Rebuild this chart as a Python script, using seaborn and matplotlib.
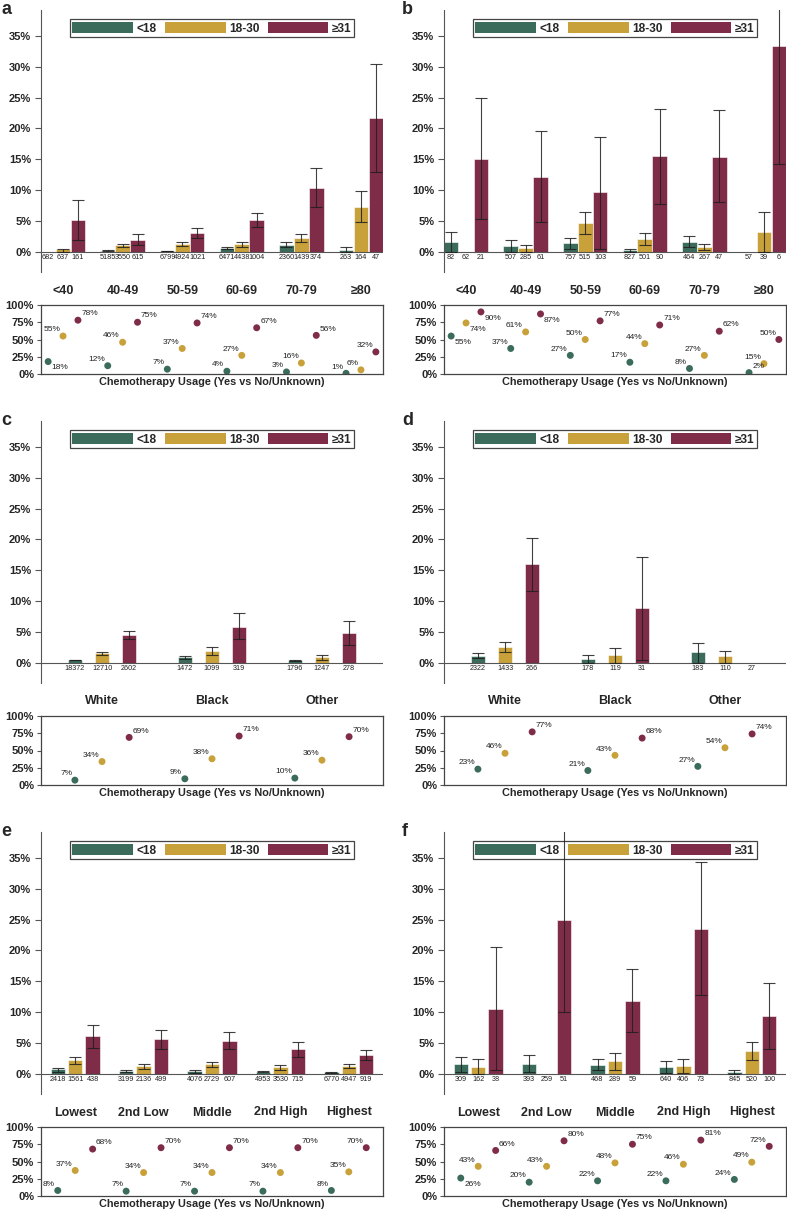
import numpy as np
import pandas as pd
import seaborn as sns
import matplotlib.pyplot as plt
from matplotlib.patches import Patch

sns.set_theme(style='white')
plt.rcParams['font.family'] = ['Liberation Sans', 'DejaVu Sans']

# groups
bmi_groups = ['<18', '18-30', '≥31']
palette = ['#3b6c5b', '#c9a13a', '#7f2c48']
age_groups = ['<40', '40-49', '50-59', '60-69', '70-79', '≥80']
race_groups = ['White', 'Black', 'Other']
income_groups = ['Lowest', '2nd Low', 'Middle', '2nd High', 'Highest']
nan = np.nan

# ---- panel a (age) ----
a_n = [[682, 5185, 6799, 6471, 2360, 263],
       [637, 3550, 4924, 4438, 1439, 164],
       [161, 615, 1021, 1004, 374, 47]]
a_rate = [[0.0, 0.15, 0.1, 0.55, 1.15, 0.3],
          [0.4, 1.0, 1.25, 1.2, 2.25, 7.25],
          [5.2, 1.95, 3.1, 5.1, 10.3, 21.7]]
a_lo = [[nan, 0.1, 0.05, 0.4, 0.7, 0.0],
        [0.0, 0.7, 0.85, 0.8, 1.6, 4.75],
        [1.95, 1.1, 2.2, 4.05, 7.3, 12.9]]
a_hi = [[nan, 0.2, 0.15, 0.7, 1.6, 0.7],
        [0.5, 1.3, 1.55, 1.55, 2.85, 9.8],
        [8.4, 2.8, 3.9, 6.2, 13.5, 30.5]]
a_chemo = [[18, 12, 7, 4, 3, 1],
           [55, 46, 37, 27, 16, 6],
           [78, 75, 74, 67, 56, 32]]

# ---- panel b (age) ----
b_n = [[82, 507, 757, 827, 464, 57],
       [62, 285, 515, 501, 267, 39],
       [21, 61, 103, 90, 47, 6]]
b_rate = [[1.6, 0.97, 1.35, 0.27, 1.6, 0.0],
          [0.0, 0.55, 4.6, 2.1, 0.7, 3.25],
          [15.1, 12.05, 9.6, 15.5, 15.4, 33.4]]
b_lo = [[0.0, 0.0, 0.5, 0.0, 0.7, nan],
        [nan, 0.0, 2.8, 1.0, 0.2, 0.0],
        [5.3, 4.8, 0.5, 7.8, 8.0, 14.2]]
b_hi = [[3.25, 1.95, 2.2, 0.45, 2.6, nan],
        [nan, 1.1, 6.5, 3.1, 1.3, 6.5],
        [25.0, 19.5, 18.6, 23.2, 22.9, 55.0]]
b_chemo = [[55, 37, 27, 17, 8, 2],
           [74, 61, 50, 44, 27, 15],
           [90, 87, 77, 71, 62, 50]]

# ---- panel c (race) ----
c_n = [[18372, 1472, 1796],
       [12710, 1099, 1247],
       [2602, 319, 278]]
c_rate = [[0.45, 0.9, 0.4],
          [1.5, 1.9, 0.9],
          [4.5, 5.75, 4.85]]
c_lo = [[0.35, 0.65, 0.2],
        [1.3, 1.3, 0.4],
        [3.9, 3.8, 2.85]]
c_hi = [[0.5, 1.1, 0.5],
        [1.7, 2.5, 1.3],
        [5.2, 8.0, 6.8]]
c_chemo = [[7, 9, 10],
           [34, 38, 36],
           [69, 71, 70]]

# ---- panel d (race) ----
d_n = [[2322, 178, 183],
       [1433, 119, 110],
       [266, 31, 27]]
d_rate = [[1.1, 0.65, 1.65],
          [2.6, 1.2, 1.0],
          [16.0, 8.8, 0.0]]
d_lo = [[0.8, 0.0, 0.0],
        [1.8, 0.0, 0.0],
        [11.7, 0.5, nan]]
d_hi = [[1.5, 1.25, 3.2],
        [3.35, 2.35, 1.95],
        [20.2, 17.1, nan]]
d_chemo = [[23, 21, 27],
           [46, 43, 54],
           [77, 68, 74]]

# ---- panel e (income) ----
e_n = [[2418, 3199, 4076, 4953, 6770],
       [1561, 2136, 2729, 3530, 4947],
       [438, 499, 607, 715, 919]]
e_rate = [[0.7, 0.5, 0.38, 0.32, 0.2],
          [2.15, 1.2, 1.55, 1.0, 1.3],
          [6.05, 5.55, 5.35, 3.95, 3.1]]
e_lo = [[0.27, 0.27, 0.16, 0.25, 0.15],
        [1.55, 0.75, 1.15, 0.65, 0.97],
        [4.2, 3.95, 4.0, 2.65, 2.25]]
e_hi = [[0.97, 0.65, 0.54, 0.4, 0.25],
        [2.75, 1.6, 1.9, 1.35, 1.55],
        [7.9, 7.1, 6.7, 5.2, 3.9]]
e_chemo = [[8, 7, 7, 7, 8],
           [37, 34, 34, 34, 35],
           [68, 70, 70, 70, 70]]

# ---- panel f (income) ----
f_n = [[309, 393, 468, 640, 845],
       [162, 259, 289, 406, 520],
       [38, 51, 59, 73, 100]]
f_rate = [[1.5, 1.6, 1.4, 1.1, 0.27],
          [1.15, 0.0, 2.0, 1.3, 3.6],
          [10.5, 24.9, 11.85, 23.5, 9.35]]
f_lo = [[0.27, 0.27, 0.6, 0.05, 0.0],
        [0.0, nan, 0.65, 0.1, 2.15],
        [0.6, 10.0, 6.75, 12.7, 4.05]]
f_hi = [[2.75, 3.0, 2.4, 2.05, 0.6],
        [2.3, nan, 3.35, 2.4, 5.1],
        [20.5, 45.0, 17.0, 34.3, 14.7]]
f_chemo = [[26, 20, 22, 22, 24],
           [43, 43, 48, 46, 49],
           [66, 80, 75, 81, 72]]

# where each percentage label sits next to its dot
a_lab = [['lr', 'ul', 'ul', 'ul', 'ul', 'ul'], ['ul'] * 6, ['ur'] * 5 + ['ul']]
b_lab = [['lr', 'ul', 'ul', 'ul', 'ul', 'ur'], ['lr'] + ['ul'] * 5, ['lr', 'lr', 'ur', 'ur', 'ur', 'ul']]
c_lab = [['ul'] * 3, ['ul'] * 3, ['ur'] * 3]
e_lab = [['ul'] * 5, ['ul'] * 5, ['ur'] * 4 + ['ul']]
f_lab = [['lr'] + ['ul'] * 4, ['ul'] * 5, ['ur'] * 4 + ['ul']]

W, H = 787, 1215
fig = plt.figure(figsize=(W / 100, H / 100), dpi=100)

label_off = {'ul': ((-2, 2), 'right', 'bottom'),
             'ur': ((2.5, 2), 'left', 'bottom'),
             'lr': ((2.5, -2), 'left', 'top')}


def draw_panel(letter, col, row, cats, n, rate, lo, hi, chemo, labpos, xlim, width, gap):
    left = [41, 444][col]
    off = row * 411
    ax = fig.add_axes([left / W, 1 - (272 + off) / H, 342 / W, 262 / H])
    axd = fig.add_axes([left / W, 1 - (374 + off) / H, 342 / W, 69 / H])
    k = len(cats)

    df = pd.DataFrame({'cat': np.tile(cats, 3),
                       'bmi': np.repeat(bmi_groups, k),
                       'rate': np.ravel(rate)})
    sns.barplot(data=df, x='cat', y='rate', hue='bmi', order=cats, hue_order=bmi_groups,
                palette=palette, width=width, gap=gap, errorbar=None, saturation=1,
                legend=False, ax=ax, edgecolor='white', linewidth=0.4)
    ax.axhline(0, color='#555555', lw=0.8, zorder=2)

    xs = [[p.get_x() + p.get_width() / 2 for p in cont] for cont in ax.containers]
    for j in range(3):
        x = np.array(xs[j])
        r = np.array(rate[j], float)
        l = np.array(lo[j], float)
        h = np.array(hi[j], float)
        m = ~np.isnan(l)
        ax.errorbar(x[m], r[m], yerr=[r[m] - l[m], h[m] - r[m]], fmt='none',
                    ecolor='#1e1e1e', elinewidth=0.8, capsize=4.3, capthick=0.8,
                    alpha=0.85, zorder=6)
        for xi, ni in zip(x, n[j]):
            ax.text(xi, -1.0, str(ni), ha='center', va='center', fontsize=5.2, color='#222222')

    ax.set_xlim(xlim)
    ax.set_ylim(-3.3, 39.2)
    ax.set_yticks(range(0, 36, 5))
    ax.set_yticklabels([f'{t}%' for t in range(0, 36, 5)])
    ax.set_xlabel('')
    ax.set_ylabel('')
    for s in ['top', 'right', 'bottom']:
        ax.spines[s].set_visible(False)
    ax.spines['left'].set_color('#555555')
    ax.spines['left'].set_linewidth(0.8)
    ax.tick_params(axis='y', left=True, length=4, width=0.8, color='#555555', pad=3, labelsize=8)
    ax.tick_params(axis='x', bottom=False, length=0, pad=9, labelsize=9)
    for t in ax.get_xticklabels() + ax.get_yticklabels():
        t.set_fontweight('bold')

    handles = [Patch(facecolor=c, edgecolor='none') for c in palette]
    leg = ax.legend(handles, bmi_groups, loc='upper center', bbox_to_anchor=(0.5, 0.987),
                    ncol=3, frameon=True, fancybox=False, edgecolor='#444444', framealpha=1,
                    handlelength=5.1, handleheight=1.1, handletextpad=0.3, columnspacing=0.65,
                    borderpad=0.22, prop={'weight': 'bold', 'size': 8.6})
    leg.get_frame().set_linewidth(0.9)

    # chemotherapy dots
    dd = pd.DataFrame({'x': np.ravel(xs), 'y': np.ravel(chemo),
                       'bmi': np.repeat(bmi_groups, k)})
    sns.scatterplot(data=dd, x='x', y='y', hue='bmi', hue_order=bmi_groups, palette=palette,
                    s=25, linewidth=0, legend=False, ax=axd)
    for j in range(3):
        for xi, v, pos in zip(xs[j], chemo[j], labpos[j]):
            d, ha, va = label_off[pos]
            axd.annotate(f'{v}%', (xi, v), xytext=d, textcoords='offset points',
                         ha=ha, va=va, fontsize=6, color='#222222')
    axd.set_xlim(xlim)
    axd.set_ylim(0, 100)
    axd.set_xticks([])
    axd.set_yticks([0, 25, 50, 75, 100])
    axd.set_yticklabels(['0%', '25%', '50%', '75%', '100%'])
    axd.set_ylabel('')
    axd.set_xlabel('Chemotherapy Usage (Yes vs No/Unknown)', fontsize=7.8,
                   fontweight='bold', labelpad=2)
    for s in axd.spines.values():
        s.set_visible(True)
        s.set_color('#444444')
        s.set_linewidth(0.9)
    axd.tick_params(axis='y', left=True, length=3, width=0.8, color='#555555', pad=2, labelsize=8)
    for t in axd.get_yticklabels():
        t.set_fontweight('bold')

    fig.text([1, 402][col] / W, 1 - (off + 1) / H, letter, fontsize=13,
             fontweight='bold', ha='left', va='top')


draw_panel('a', 0, 0, age_groups, a_n, a_rate, a_lo, a_hi, a_chemo, a_lab, (-0.37, 5.37), 0.75, 0.02)
draw_panel('b', 1, 0, age_groups, b_n, b_rate, b_lo, b_hi, b_chemo, b_lab, (-0.37, 5.37), 0.75, 0.02)
draw_panel('c', 0, 1, race_groups, c_n, c_rate, c_lo, c_hi, c_chemo, c_lab, (-0.555, 2.555), 0.74, 0.47)
draw_panel('d', 1, 1, race_groups, d_n, d_rate, d_lo, d_hi, d_chemo, c_lab, (-0.555, 2.555), 0.74, 0.47)
draw_panel('e', 0, 2, income_groups, e_n, e_rate, e_lo, e_hi, e_chemo, e_lab, (-0.5, 4.5), 0.765, 0.18)
draw_panel('f', 1, 2, income_groups, f_n, f_rate, f_lo, f_hi, f_chemo, f_lab, (-0.5, 4.5), 0.765, 0.18)

fig.savefig('out.png', dpi=100)
